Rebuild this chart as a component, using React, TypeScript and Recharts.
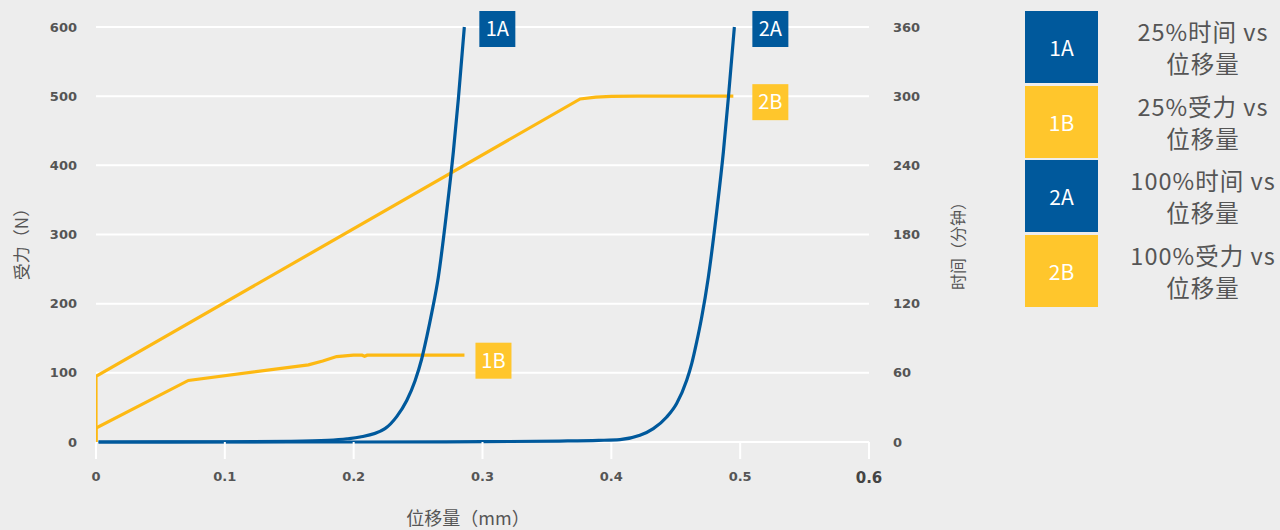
import { LineChart, Line, XAxis, YAxis, CartesianGrid } from "recharts";

// displacement (mm) vs time (min) -- right axis
const x1A = [0.002, 0.1, 0.15, 0.18, 0.195, 0.2049, 0.2243, 0.2334, 0.2412, 0.2476, 0.2528, 0.2567, 0.2606, 0.2657, 0.2722, 0.2774, 0.2813, 0.2859];
const y1A = [0, 0.2, 0.6, 1.5, 2.8, 4.3, 11.6, 22, 36, 53, 72, 91, 112, 143, 200, 252, 298, 360];

const x2A = [0.002, 0.2, 0.3, 0.36, 0.39, 0.4067, 0.4222, 0.4326, 0.443, 0.4507, 0.4585, 0.4624, 0.4663, 0.4701, 0.4753, 0.4818, 0.487, 0.4908, 0.4955];
const y2A = [0, 0, 0.3, 0.8, 1.4, 2.1, 5.8, 11.6, 21.7, 33.4, 53.6, 68, 87, 108, 143, 200, 252, 298, 360];

// displacement (mm) vs force (N) -- left axis
const x1B = [0, 0, 0.0717, 0.1649, 0.176, 0.1868, 0.1998, 0.2065, 0.2085, 0.2105, 0.286];
const y1B = [0, 20, 89, 111.5, 117, 123.5, 125.5, 125.5, 124, 125.5, 125.5];

const x2B = [0, 0, 0.3758, 0.388, 0.4, 0.42, 0.4947];
const y2B = [0, 95, 496, 498.5, 499.7, 500, 500];

const xTicks = [0, 0.1, 0.2, 0.3, 0.4, 0.5, 0.6];
const forceTicks = [0, 100, 200, 300, 400, 500, 600];
const timeTicks = [0, 60, 120, 180, 240, 300, 360];

const legendKeys = ["1A", "1B", "2A", "2B"];
const legendLines = [
  ["25%时间 vs", "位移量"],
  ["25%受力 vs", "位移量"],
  ["100%时间 vs", "位移量"],
  ["100%受力 vs", "位移量"],
];

const BLUE = "#00599c";
const YELLOW_LINE = "#fdb913";
const YELLOW_BOX = "#ffc62c";
const TEXT = "#555";
const BG = "#ededed";
const CJK = "'Noto Sans CJK SC', 'Noto Sans', sans-serif";
const NUM = "'DejaVu Sans', sans-serif";

const zip = (xs: number[], ys: number[]) => xs.map((x, i) => ({ x, y: ys[i] }));

const endLabel =
  (text: string, fill: string, lastIndex: number, dx: number, dy: number) =>
  (props: any) => {
    if (props.index !== lastIndex) return <g />;
    const px = props.x ?? props.viewBox?.x;
    const py = props.y ?? props.viewBox?.y;
    const cx = px + dx;
    const cy = py + dy;
    return (
      <g>
        <rect x={cx - 18} y={cy - 18} width={36} height={36} fill={fill} />
        <text
          x={cx}
          y={cy}
          dy="0.36em"
          textAnchor="middle"
          fill="#fff"
          fontSize={20}
          fontFamily={CJK}
        >
          {text}
        </text>
      </g>
    );
  };

const XTick = (props: any) => {
  const { x, y, payload } = props;
  const last = payload.value === 0.6;
  return (
    <text
      x={x}
      y={y}
      dy="0.71em"
      textAnchor="middle"
      fill={last ? "#444" : TEXT}
      fontSize={last ? 15 : 13}
      fontWeight="bold"
      fontFamily={NUM}
    >
      {String(payload.value)}
    </text>
  );
};

const axisTick = { fill: TEXT, fontSize: 13, fontWeight: "bold", fontFamily: NUM };

export default function App() {
  const series = [
    { id: "1B", data: zip(x1B, y1B), axis: "left", color: YELLOW_LINE, box: YELLOW_BOX, dx: 29, dy: 5.5 },
    { id: "2B", data: zip(x2B, y2B), axis: "left", color: YELLOW_LINE, box: YELLOW_BOX, dx: 37, dy: 6 },
    { id: "1A", data: zip(x1A, y1A), axis: "right", color: BLUE, box: BLUE, dx: 33, dy: 2 },
    { id: "2A", data: zip(x2A, y2A), axis: "right", color: BLUE, box: BLUE, dx: 36, dy: 2 },
  ];

  const title = {
    position: "absolute" as const,
    whiteSpace: "nowrap" as const,
    fontFamily: CJK,
    color: TEXT,
    lineHeight: 1,
  };

  return (
    <div
      style={{
        position: "absolute",
        left: 0,
        top: 0,
        width: 1280,
        height: 530,
        background: BG,
        overflow: "hidden",
      }}
    >
      <LineChart
        width={1000}
        height={530}
        margin={{ top: 27, right: 71, left: 36, bottom: 38 }}
      >
        <CartesianGrid
          yAxisId="left"
          vertical={false}
          stroke="#fff"
          strokeWidth={2}
        />
        <XAxis
          type="number"
          dataKey="x"
          domain={[0, 0.6]}
          ticks={xTicks}
          allowDataOverflow
          axisLine={false}
          tickLine={{ stroke: "#fff", strokeWidth: 2 }}
          tickSize={17}
          tickMargin={13}
          height={50}
          tick={<XTick />}
        />
        <YAxis
          yAxisId="left"
          domain={[0, 600]}
          ticks={forceTicks}
          width={60}
          axisLine={false}
          tickLine={false}
          tickSize={0}
          tickMargin={19}
          tick={axisTick}
        />
        <YAxis
          yAxisId="right"
          orientation="right"
          domain={[0, 360]}
          ticks={timeTicks}
          width={60}
          axisLine={false}
          tickLine={false}
          tickSize={0}
          tickMargin={24}
          tick={axisTick}
        />
        {series.map((s) => (
          <Line
            key={s.id}
            data={s.data}
            dataKey="y"
            yAxisId={s.axis}
            type={s.axis === "right" ? "monotone" : "linear"}
            stroke={s.color}
            strokeWidth={3.2}
            dot={false}
            activeDot={false}
            isAnimationActive={false}
            label={endLabel(s.id, s.box, s.data.length - 1, s.dx, s.dy)}
          />
        ))}
      </LineChart>

      {/* axis titles */}
      <div
        style={{
          ...title,
          left: 20,
          top: 240,
          fontSize: 17,
          transform: "translate(-50%, -50%) rotate(-90deg)",
        }}
      >
        受力（N）
      </div>
      <div
        style={{
          ...title,
          left: 957,
          top: 242,
          fontSize: 16,
          transform: "translate(-50%, -50%) rotate(-90deg)",
        }}
      >
        时间（分钟）
      </div>
      <div
        style={{
          ...title,
          left: 468,
          top: 517,
          fontSize: 18,
          transform: "translate(-50%, -50%)",
        }}
      >
        位移量（mm）
      </div>

      {/* legend */}
      <div style={{ position: "absolute", left: 1025, top: 11 }}>
        {legendKeys.map((k, i) => {
          const fill = k.endsWith("A") ? BLUE : YELLOW_BOX;
          return (
            <div
              key={k}
              style={{ display: "flex", alignItems: "center", height: 72, marginBottom: 2.5 }}
            >
              <div
                style={{
                  width: 73,
                  height: 72,
                  background: fill,
                  color: "#fff",
                  display: "flex",
                  alignItems: "center",
                  justifyContent: "center",
                  fontFamily: CJK,
                  fontSize: 21,
                }}
              >
                {k}
              </div>
              <div
                style={{
                  width: 200,
                  marginLeft: 5,
                  textAlign: "center",
                  fontFamily: CJK,
                  fontSize: 23.5,
                  lineHeight: "32px",
                  color: TEXT,
                  letterSpacing: 1,
                }}
              >
                {legendLines[i].map((t) => (
                  <div key={t}>{t}</div>
                ))}
              </div>
            </div>
          );
        })}
      </div>
    </div>
  );
}
